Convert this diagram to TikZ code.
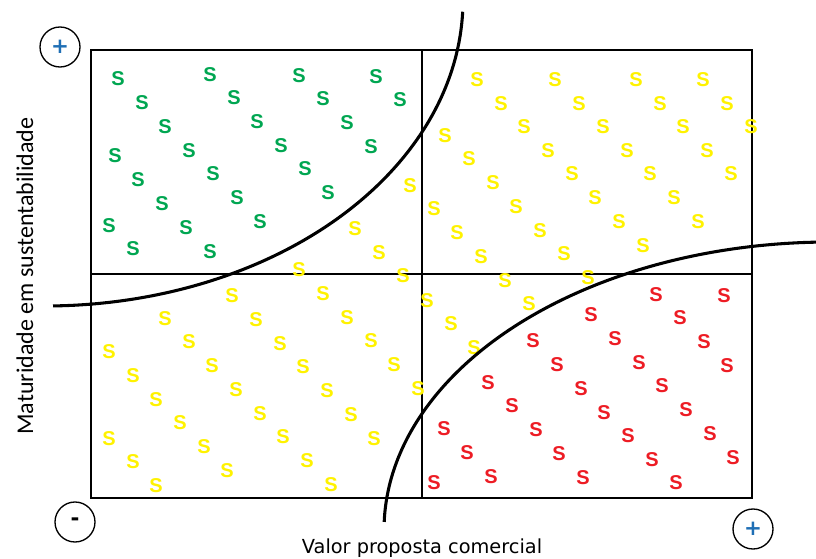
\documentclass[tikz,border=0pt]{standalone}
\usepackage{fontspec}
\setmainfont{Liberation Sans}
\newfontfamily\sfnt{Liberation Sans}
\newfontfamily\labfont{DejaVu Sans}
\newfontfamily\vlabfont{Carlito}
\definecolor{sgreen}{HTML}{00A651}
\definecolor{syellow}{HTML}{FFF200}
\definecolor{sred}{HTML}{ED1C24}
\definecolor{pblue}{HTML}{1F6FB5}
\tikzset{
  sbase/.style={inner sep=0pt, font=\sfnt\fontsize{15}{16}\selectfont\bfseries},
  gs/.style={sbase, text=sgreen},
  ys/.style={sbase, text=syellow},
  rs/.style={sbase, text=sred},
  frame/.style={draw=black, line width=1pt},
  curve/.style={draw=black, line width=2.3pt},
  sign/.style={circle, draw=black, line width=1pt, minimum size=30pt, inner sep=0pt,
    font=\labfont\fontsize{16}{16}\selectfont\bfseries}
}
\begin{document}
\begin{tikzpicture}[x=0.75pt,y=-0.75pt]
\useasboundingbox (0,0) rectangle (816,559);
% frame
\draw[frame] (91,50) rectangle (752,498);
\draw[frame] (91,274) -- (752,274);
\draw[frame] (422,50) -- (422,498);
% green
\foreach \x/\y [count=\i] in {118/79,142/103,165/127,115/156,138/180,162/204,109/226,133/249,
  210/75,234/98,257/122,281/146,305/169,328/193,189/151,213/174,237/198,260/222,186/228,210/252,
  299/76,323/99,347/123,371/147,376/77,400/100}
  \node[gs] (g\i) at (\x,\y) {S};
% yellow
\foreach \x/\y [count=\i] in {477/80,501/104,524/127,548/151,572/174,595/198,619/222,643/246,
  555/80,579/104,603/127,627/151,650/174,674/198,698/222,
  636/80,660/104,683/127,707/151,731/174,
  703/80,727/104,751/127,
  445/136,469/159,493/183,516/207,540/231,564/254,588/278,
  410/186,434/209,457/233,481/257,505/281,529/304,
  355/229,379/253,403/276,427/301,451/324,474/348,
  299/270,
  232/296,256/320,280/344,303/367,327/391,351/415,374/439,
  323/294,347/318,371/341,394/365,418/389,
  165/319,189/342,212/366,236/390,260/414,283/437,307/461,331/485,
  109/352,133/376,156/400,180/423,204/447,227/471,
  109/439,133/462,156/486}
  \node[ys] (y\i) at (\x,\y) {S};
% red
\foreach \x/\y [count=\i] in {656/295,724/296,591/315,680/318,533/341,615/339,704/342,557/365,
  639/363,727/366,488/383,581/389,662/386,512/406,604/413,686/410,444/429,536/430,628/436,
  710/434,467/453,559/454,652/460,733/458,434/483,491/477,583/478,676/483}
  \node[rs] (r\i) at (\x,\y) {S};
% curves
\draw[curve] plot[domain=88.9:2.2, samples=120, smooth] ({45+418*cos(\x)}, {306*sin(\x)});
\draw[curve] plot[domain=-178.4:-91.8, samples=120, smooth] ({830+446*cos(\x)}, {530+288*sin(\x)});
% signs
\node[sign, text=pblue] (ptl) at (60,47) {+};
\node[sign, text=black] (mbl) at (75,522) {-};
\node[sign, text=pblue] (pbr) at (753,529) {+};
% labels
\node[inner sep=0pt, font=\labfont\fontsize{14.5}{16}\selectfont] (xlab) at (422,548) {Valor proposta comercial};
\node[inner sep=0pt, rotate=90, font=\vlabfont\fontsize{18}{20}\selectfont] (ylab) at (25,276) {Maturidade em sustentabilidade};
\end{tikzpicture}
\end{document}
